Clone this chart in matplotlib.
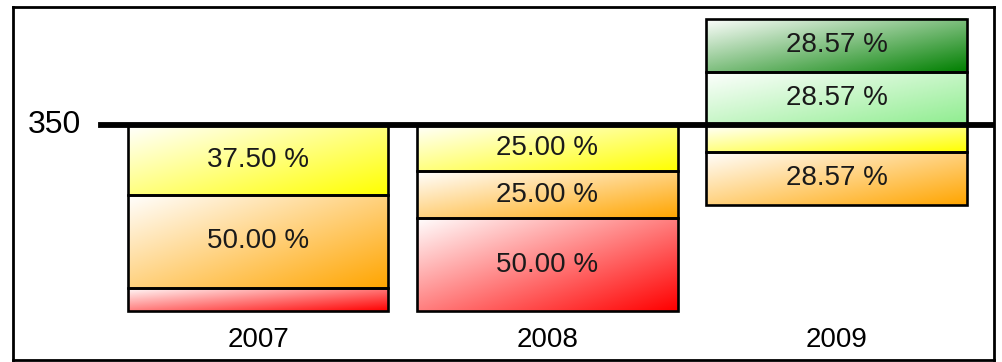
import numpy as np
import matplotlib.pyplot as plt

# Data (percent share per segment, stacked from the bottom)
years = ['2007', '2008', '2009']
bases = [0.0, 0.0, 57.14]
red_vals = [12.50, 50.00, 0.0]
orange_vals = [50.00, 25.00, 28.57]
yellow_vals = [37.50, 25.00, 14.29]
lightgreen_vals = [0.0, 0.0, 28.57]
darkgreen_vals = [0.0, 0.0, 28.57]
threshold = 100.0
threshold_label = '350'

series = [
    (red_vals, (1.0, 0.0, 0.0)),
    (orange_vals, (1.0, 0.647, 0.0)),
    (yellow_vals, (1.0, 1.0, 0.0)),
    (lightgreen_vals, (0.56, 0.93, 0.56)),
    (darkgreen_vals, (0.0, 0.5, 0.0)),
]

plt.rcParams['font.family'] = ['Liberation Sans', 'DejaVu Sans']

fig = plt.figure(figsize=(10.03, 3.62), dpi=100)
ax = fig.add_axes([13 / 1003, 2 / 362, 981 / 1003, 353 / 362])

x = np.arange(len(years))
width = 0.9


def gradient(color, n=60, m=120):
    # diagonal gradient: white at top-left -> full colour at bottom-right
    v = np.linspace(0, 1, n)[:, None]
    u = np.linspace(0, 1, m)[None, :]
    t = (u + v) / 2
    c = np.array(color)
    img = (1 - t[..., None]) * 1.0 + t[..., None] * c
    return img


bottoms = np.array(bases, dtype=float)
for vals, col in series:
    for i, v in enumerate(vals):
        if v <= 0:
            continue
        x0, x1 = x[i] - width / 2, x[i] + width / 2
        y0, y1 = bottoms[i], bottoms[i] + v
        ax.imshow(gradient(col), extent=(x0, x1, y0, y1), aspect='auto',
                  origin='upper', zorder=1, interpolation='bilinear')
        ax.bar(x[i], v, width, bottom=y0, fill=False, edgecolor='black',
               linewidth=1.9, zorder=3)
        if v >= 20:
            ax.text(x[i], y0 + v / 2, f'{v:.2f} %', ha='center', va='center',
                    fontsize=20, color='#1a1a1a', zorder=4)
    bottoms += np.array(vals)

ax.axhline(threshold, xmin=0.09, xmax=1, color='black', linewidth=4.2, zorder=5)
ax.text(0.042, threshold, threshold_label, transform=ax.get_yaxis_transform(),
        ha='center', va='center', fontsize=23, color='black')

for i, yr in enumerate(years):
    ax.text(x[i], -15.6, yr, ha='center', va='center', fontsize=20, color='black')

ax.set_xlim(-0.849, 2.545)
ax.set_ylim(-26.3, 163.4)
ax.set_xticks([])
ax.set_yticks([])
for s in ax.spines.values():
    s.set_linewidth(2)
    s.set_color('black')

fig.savefig('out.png', dpi=100)
